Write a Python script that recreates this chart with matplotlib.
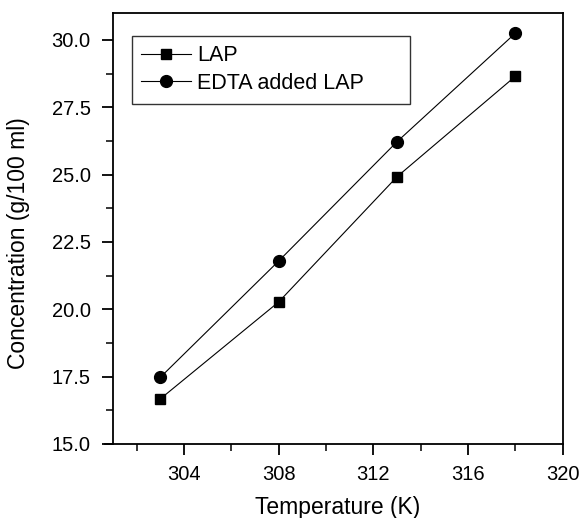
import matplotlib
matplotlib.use("Agg")
import matplotlib.pyplot as plt
from matplotlib.ticker import MultipleLocator, FormatStrFormatter

plt.rcParams['font.family'] = ['Liberation Sans', 'DejaVu Sans']

temperature = [303, 308, 313, 318]
lap = [16.67, 20.27, 24.92, 28.65]
edta_lap = [17.47, 21.79, 26.22, 30.25]
series_labels = ["LAP", "EDTA added LAP"]

fig = plt.figure(figsize=(5.79, 5.18), dpi=100)
ax = fig.add_axes([0.195, 0.143, 0.777, 0.832])

ax.plot(temperature, lap, color='black', lw=0.8, marker='s', ms=7.5, label=series_labels[0])
ax.plot(temperature, edta_lap, color='black', lw=0.8, marker='o', ms=8.5, label=series_labels[1])

ax.set_xlim(301, 320)
ax.set_ylim(15, 31)
ax.set_xticks([304, 308, 312, 316, 320])
ax.xaxis.set_minor_locator(MultipleLocator(2))
ax.yaxis.set_major_locator(MultipleLocator(2.5))
ax.yaxis.set_minor_locator(MultipleLocator(1.25))
ax.yaxis.set_major_formatter(FormatStrFormatter('%.1f'))

ax.tick_params(which='major', direction='out', length=8, width=1.3, labelsize=14.5)
ax.tick_params(axis='y', which='major', pad=8)
ax.tick_params(axis='x', which='major', pad=7)
ax.tick_params(which='minor', direction='out', length=5, width=1.1)
for s in ax.spines.values():
    s.set_linewidth(1.3)
ax.spines['bottom'].set_bounds(300.65, 320)

ax.set_xlabel("Temperature (K)", fontsize=16.5, labelpad=9)
ax.set_ylabel("Concentration (g/100 ml)", fontsize=16.5)
ax.yaxis.set_label_coords(-0.185, 0.465)

leg = ax.legend(loc='upper left', bbox_to_anchor=(0.042, 0.947, 0.618, 0.0), mode='expand',
                fontsize=15.5, frameon=True, fancybox=False, edgecolor='black', handlelength=2.3,
                borderpad=0.45, labelspacing=0.3, handletextpad=0.3, borderaxespad=0)
leg.get_frame().set_linewidth(1.0)

fig.savefig("out.png", dpi=100)
